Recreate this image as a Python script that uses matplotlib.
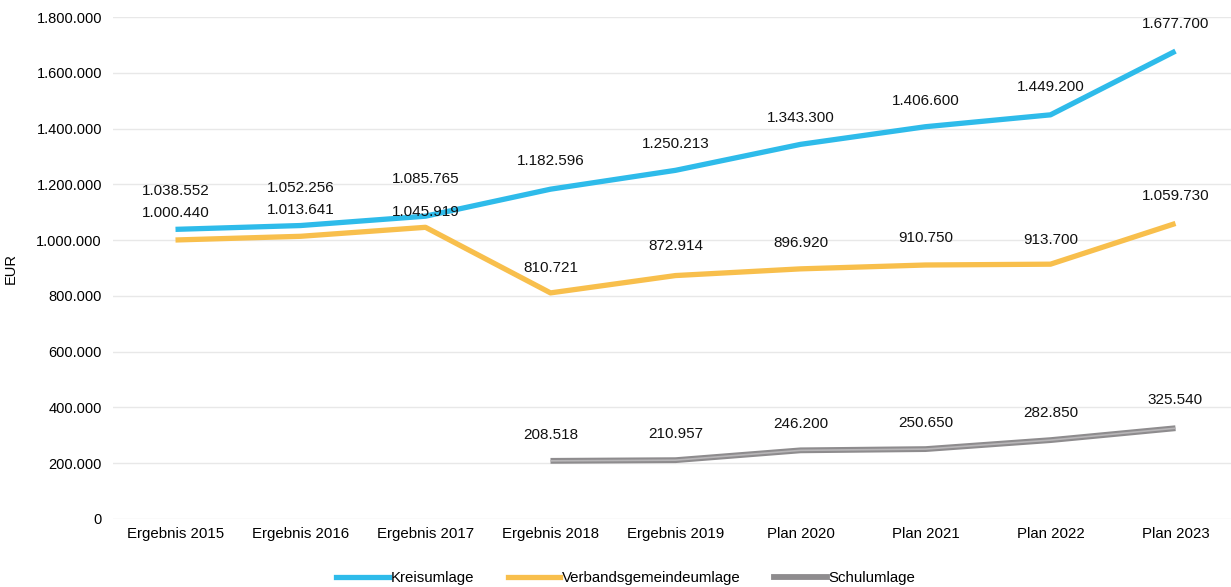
import matplotlib
matplotlib.use("Agg")
import matplotlib.pyplot as plt
import numpy as np
from matplotlib.lines import Line2D

plt.rcParams['font.family'] = ['Liberation Sans', 'DejaVu Sans']

categories = ["Ergebnis 2015", "Ergebnis 2016", "Ergebnis 2017", "Ergebnis 2018",
              "Ergebnis 2019", "Plan 2020", "Plan 2021", "Plan 2022", "Plan 2023"]
kreisumlage = [1038552, 1052256, 1085765, 1182596, 1250213, 1343300, 1406600, 1449200, 1677700]
verbandsumlage = [1000440, 1013641, 1045919, 810721, 872914, 896920, 910750, 913700, 1059730]
schulumlage = [None, None, None, 208518, 210957, 246200, 250650, 282850, 325540]
yticks = [0, 200000, 400000, 600000, 800000, 1000000, 1200000, 1400000, 1600000, 1800000]

def fmt(v):
    return f"{v:,.0f}".replace(",", ".")

W, H = 1231, 587
fig = plt.figure(figsize=(W/100, H/100), dpi=100)
ax = fig.add_axes([113/W, 1-519/H, (W-113)/W, (519-17)/H])

x = np.arange(len(categories))
c_blue = "#2EBBEA"
c_orange = "#F8BF4C"
c_gray = "#8E8C8E"

ax.plot(x, kreisumlage, color=c_blue, lw=3.8, solid_capstyle='butt', zorder=3)
ax.plot(x, verbandsumlage, color=c_orange, lw=3.8, solid_capstyle='butt', zorder=3)
xs = [xi for xi, v in zip(x, schulumlage) if v is not None]
ys = [v for v in schulumlage if v is not None]
ax.plot(xs, ys, color=c_gray, lw=4.2, solid_capstyle='butt', zorder=3)
ax.plot(xs, ys, color="#B8B6B8", lw=1.2, solid_capstyle='butt', zorder=4)

px = 0.72  # points per pixel
k_off = [38, 38, 37, 28, 26, 26, 26, 28, 27]
v_off = [27, 26, 15, 25, 30, 26, 27, 24, 27]
s_off = [26, 26, 26, 26, 26, 26, 26, 27, 28]
fs = 11
for i, v in enumerate(kreisumlage):
    ax.annotate(fmt(v), (x[i], v), xytext=(0, k_off[i]*px), textcoords='offset points',
                ha='center', va='center', fontsize=fs, color='#111111')
for i, v in enumerate(verbandsumlage):
    ax.annotate(fmt(v), (x[i], v), xytext=(0, v_off[i]*px), textcoords='offset points',
                ha='center', va='center', fontsize=fs, color='#111111')
for i, v in enumerate(schulumlage):
    if v is None:
        continue
    ax.annotate(fmt(v), (x[i], v), xytext=(0, s_off[i]*px), textcoords='offset points',
                ha='center', va='center', fontsize=fs, color='#111111')

ax.set_xlim(-0.5, -0.5 + (W-113)/125)
ax.set_ylim(0, 1800000)
ax.set_yticks(yticks)
ax.set_yticklabels([fmt(t) for t in yticks], fontsize=10.5)
ax.set_xticks(x)
ax.set_xticklabels(categories, fontsize=10.8)
ax.tick_params(length=0, pad=8)
ax.tick_params(axis='x', pad=6)
ax.grid(axis='y', color='#E8E8E8', lw=1)
ax.set_axisbelow(True)
for s in ax.spines.values():
    s.set_visible(False)
ax.set_ylabel("EUR", fontsize=10.5)
ax.yaxis.set_label_coords(-(113-18)/(W-113), 0.5)

handles = [Line2D([], [], color=c_blue, lw=3.8),
           Line2D([], [], color=c_orange, lw=3.8),
           Line2D([], [], color=c_gray, lw=4.2)]
fig.legend(handles, ["Kreisumlage", "Verbandsgemeindeumlage", "Schulumlage"],
           loc='center', bbox_to_anchor=(626/W, 1-578/H), ncol=3, frameon=False,
           fontsize=10.8, handlelength=3.5, handletextpad=0.15, columnspacing=2.2)

fig.savefig("out.png", dpi=100)
